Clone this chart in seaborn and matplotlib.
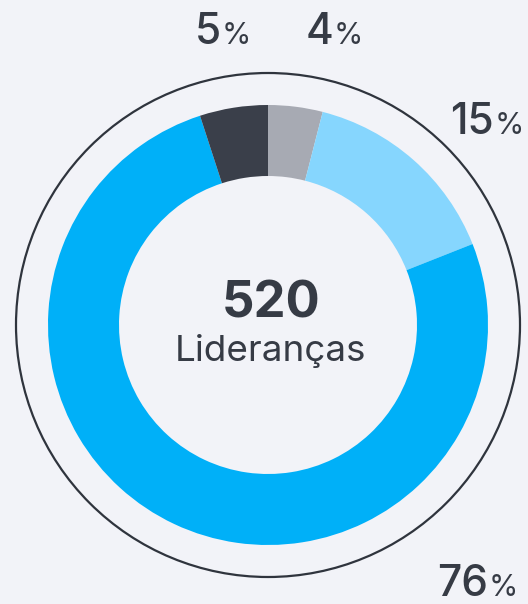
import matplotlib
matplotlib.use("Agg")
import matplotlib.pyplot as plt
import seaborn as sns

# dados do gráfico (sentido horário, começando no topo)
categorias = ["Cinza", "Azul claro", "Azul", "Escuro"]
valores = [4, 15, 76, 5]
cores = ["#a7aab3", "#86d6fe", "#00b0f8", "#3a3f4a"]
total = "520"
titulo_centro = "Lideranças"

# posição dos rótulos (pixels: x onde termina o número, y da linha de base)
rotulos_pos = {4: (333, 44), 15: (494, 134), 76: (488, 596), 5: (221, 44)}

FUNDO = "#f2f3f8"
TEXTO = "#363b45"

sns.set_style("white")
plt.rcParams["font.family"] = ["Inter", "DejaVu Sans"]

fig = plt.figure(figsize=(5.28, 6.04), dpi=100, facecolor=FUNDO)
ax = fig.add_axes([0, 0, 1, 1])
ax.set_facecolor(FUNDO)

# eixo y invertido (pixels): -90 é o topo da tela, anti-horário nos dados = horário na tela
cx, cy = 268, 325
ax.pie(valores, colors=cores, startangle=-90, counterclock=True,
       radius=220, center=(cx, cy),
       wedgeprops=dict(width=71, linewidth=0))

# anel externo
anel = plt.Circle((cx, cy), 252, fill=False, edgecolor="#2f343d", linewidth=1.6)
ax.add_patch(anel)

ax.set_xlim(0, 528)
ax.set_ylim(604, 0)
ax.set_aspect("equal")
ax.axis("off")

for v in valores:
    x, y = rotulos_pos[v]
    ax.text(x, y, str(v), ha="right", va="baseline", fontsize=30.5,
            fontweight="medium", color=TEXTO)
    ax.text(x + 1, y, "%", ha="left", va="baseline", fontsize=21.5, color=TEXTO)

ax.text(271, 317, total, ha="center", va="baseline", fontsize=36.5,
        fontweight="bold", color=TEXTO)
ax.text(270, 361, titulo_centro, ha="center", va="baseline", fontsize=26.5,
        color=TEXTO)

fig.savefig("out.png", dpi=100, facecolor=FUNDO)
plt.close(fig)
